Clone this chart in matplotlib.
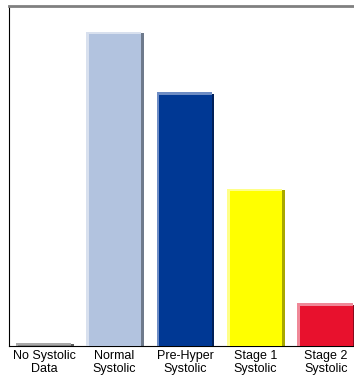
import matplotlib
matplotlib.use("Agg")
import matplotlib.pyplot as plt

# Systolic blood pressure categories
categories = ["No Systolic\nData", "Normal\nSystolic", "Pre-Hyper\nSystolic",
              "Stage 1\nSystolic", "Stage 2\nSystolic"]
values = [0.9, 92.4, 74.7, 46.2, 12.6]

# face / highlight / shadow colours for the bevelled bars
face_colors = ["#848484", "#b2c3df", "#003894", "#ffff00", "#e8112d"]
light_colors = ["#a8a8a8", "#d8e0ee", "#6d8cc4", "#ffff88", "#f08898"]
dark_colors = ["#5a5a5a", "#6e7a8c", "#00205a", "#a8a800", "#8a0a1c"]

plt.rcParams["font.family"] = ["Liberation Sans", "DejaVu Sans"]

fig = plt.figure(figsize=(3.54, 3.77), dpi=100)
ax = fig.add_axes([9 / 354, 31 / 377, 345 / 354, 340 / 377])

x = list(range(len(categories)))
w = 0.81
dx = 3 / 70.4          # bevel width in data units (about 3 px)
dy = 100 * 2.5 / 340

for i, v in enumerate(values):
    # shadow on the right side
    ax.bar(x[i] + dx * 0.3, v - dy * 0.6, width=w, color=dark_colors[i], align="center", zorder=2)
    # light rim on the left and top
    ax.bar(x[i] - dx * 0.3, v, width=w - dx * 0.6, color=light_colors[i], zorder=3)
    # bar face
    ax.bar(x[i] + dx * 0.15, v - dy, width=w - dx * 1.5, color=face_colors[i], zorder=4)

ax.set_xlim(-0.5, 4.4)
ax.set_ylim(0, 100)
ax.set_xticks(x)
ax.set_xticklabels(categories, fontsize=9, linespacing=1.05)
ax.tick_params(axis="x", length=0, pad=3)
ax.set_yticks([])

ax.spines["top"].set_color("#808080")
ax.spines["top"].set_linewidth(2)
ax.spines["left"].set_color("black")
ax.spines["bottom"].set_color("black")
ax.spines["right"].set_visible(False)

fig.savefig("out.png", dpi=100)
